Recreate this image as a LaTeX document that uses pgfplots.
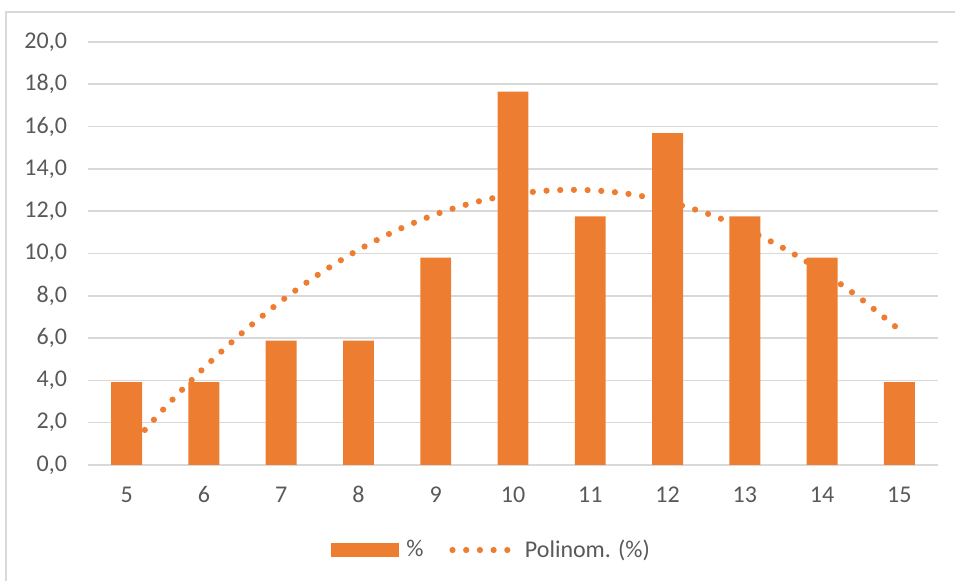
\documentclass[border=0pt]{standalone}
\usepackage{fontspec}
\setmainfont{Carlito}
\usepackage{pgfplots}
\pgfplotsset{compat=1.18}

\definecolor{barorange}{HTML}{ED7D31}
\definecolor{txtgrey}{HTML}{595959}
\definecolor{gridgrey}{HTML}{D9D9D9}

\begin{document}
\begin{tikzpicture}[font=\fontsize{12}{14}\selectfont]
\useasboundingbox (0pt,0pt) rectangle (477.5pt,-290.5pt);
% chart frame
\draw[gridgrey, line width=0.8pt] (3pt,-290.5pt) -- (3pt,-6pt) -- (477.5pt,-6pt);

\begin{axis}[
  at={(44pt,-232.5pt)}, anchor=south west,
  scale only axis,
  width=425pt, height=211.5pt,
  xmin=4.5, xmax=15.5,
  ymin=0, ymax=20,
  xtick={5,6,...,15},
  ytick={0,2,...,20},
  axis line style={draw=none},
  major tick length=0pt,
  ymajorgrids,
  grid style={gridgrey, line width=0.8pt},
  /pgf/number format/assume math mode=true,
  tick label style={txtgrey, font=\fontsize{12}{14}\selectfont},
  yticklabel style={anchor=east, xshift=-7pt,
    /pgf/number format/.cd, fixed, fixed zerofill, precision=1, use comma},
  xticklabel style={anchor=base, yshift=-19pt},
  legend columns=2,
  legend style={
    at={(0.476,-0.201)}, anchor=center,
    draw=none, fill=none,
    text=txtgrey,
    font=\fontsize{12}{14}\selectfont,
    /tikz/every even column/.append style={column sep=11pt},
  },
]
% polynomial (order 2) trend line, drawn behind the bars
\addplot[barorange, line width=3.1pt, line cap=round,
  dash pattern=on 0pt off 6.85pt, smooth, forget plot] coordinates {
  (5.0,0.686) (5.5,2.729) (6.0,4.588) (6.5,6.262) (7.0,7.750)
  (7.5,9.053) (8.0,10.171) (8.5,11.105) (9.0,11.853) (9.5,12.415)
  (10.0,12.793) (10.5,12.986) (11.0,12.993) (11.5,12.816) (12.0,12.453)
  (12.5,11.905) (13.0,11.172) (13.5,10.254) (14.0,9.151) (14.5,7.863)
  (15.0,6.390)
};
\addplot[ybar, bar width=0.4, fill=barorange, draw=none,
  legend image code/.code={\fill[barorange] (0pt,-3.5pt) rectangle (34pt,3.5pt);
    \path (35.5pt,0pt);}]
  coordinates {
  (5,3.92) (6,3.92) (7,5.88) (8,5.88) (9,9.80) (10,17.65)
  (11,11.76) (12,15.69) (13,11.76) (14,9.80) (15,3.92)
};
\addlegendentry{\%}
\addlegendimage{legend image code/.code={\draw[barorange, line width=3.1pt, line cap=round,
  dash pattern=on 0pt off 6.85pt] (0pt,0pt) -- (28pt,0pt);
  \path (34pt,0pt);}}
\addlegendentry{Polinom. (\%)}
\end{axis}
\end{tikzpicture}
\end{document}
